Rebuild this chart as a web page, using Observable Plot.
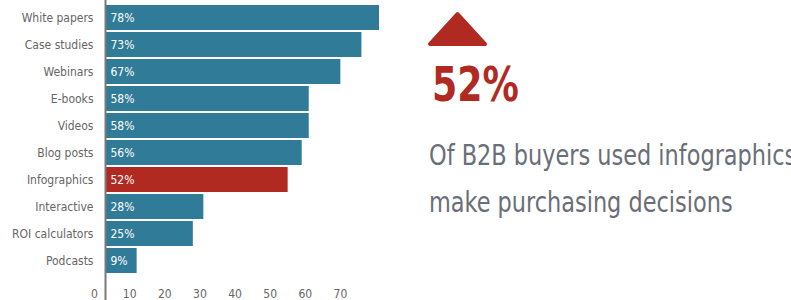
<!DOCTYPE html>
<html>
<head>
<meta charset="utf-8">
<script src="https://cdn.jsdelivr.net/npm/d3@7"></script>
<script src="https://cdn.jsdelivr.net/npm/@observablehq/plot@0.6"></script>
<style>
  html, body { margin: 0; padding: 0; background: #fff; }
  body { width: 791px; height: 300px; overflow: hidden; position: relative;
         font-family: 'DejaVu Sans Condensed', 'DejaVu Sans', sans-serif; }
  #chart { position: absolute; left: 0; top: 0; }
  #panel { position: absolute; left: 0; top: 0; width: 791px; height: 300px; pointer-events: none; }
  .big { position: absolute; left: 432px; top: 56px; font-size: 48px; font-weight: bold; color: #b12a22; line-height: 56px; white-space: nowrap; transform: scaleX(0.84); transform-origin: left center; }
  .desc { position: absolute; left: 429px; font-size: 28px; color: #6a6e78; white-space: nowrap; line-height: 34px; transform: scaleX(0.89); transform-origin: left center; }
</style>
</head>
<body>
<div id="chart"></div>
<div id="panel">
  <svg width="791" height="300" style="position:absolute;left:0;top:0">
    <polygon points="430,44 457.5,14 485,44" fill="#b12a22" stroke="#b12a22" stroke-width="4" stroke-linejoin="round"/>
  </svg>
  <div class="big">52%</div>
  <div class="desc" style="top:139px">Of B2B buyers used infographics to</div>
  <div class="desc" style="top:186px">make purchasing decisions</div>
</div>
<script>
const categories = ["White papers", "Case studies", "Webinars", "E-books", "Videos", "Blog posts", "Infographics", "Interactive", "ROI calculators", "Podcasts"];
const values = [78, 73, 67, 58, 58, 56, 52, 28, 25, 9];
const highlight = "Infographics";
const xTicks = [0, 10, 20, 30, 40, 50, 60, 70];

const data = categories.map((c, i) => ({category: c, value: values[i]}));

const chart = Plot.plot({
  width: 791,
  height: 300,
  marginLeft: 105,
  marginRight: 405,
  marginTop: 3.4,
  marginBottom: 24.7,
  style: {fontFamily: "'DejaVu Sans Condensed', 'DejaVu Sans', sans-serif", background: "transparent"},
  x: {domain: [0, 80], axis: null},
  y: {domain: categories, paddingInner: 0.08, paddingOuter: 0.04, axis: null},
  marks: [
    Plot.barX(data, {
      y: "category", x: "value",
      fill: d => d.category === highlight ? "#b12a22" : "#2f7b98"
    }),
    Plot.text(data, {
      y: "category", x: 0, text: d => d.value + "%",
      textAnchor: "start", dx: 5, fill: "white", fontSize: 12
    }),
    Plot.ruleX([0], {stroke: "#7a7a7a", strokeWidth: 2, insetTop: -4, insetBottom: -26}),
    Plot.axisY({tickSize: 0, tickPadding: 12, fontSize: 12, color: "#666", label: null}),
    Plot.axisX({ticks: xTicks, tickSize: 0, tickPadding: 14, dx: -11, fontSize: 12, color: "#666", label: null})
  ]
});
document.getElementById("chart").appendChild(chart);
</script>
</body>
</html>
